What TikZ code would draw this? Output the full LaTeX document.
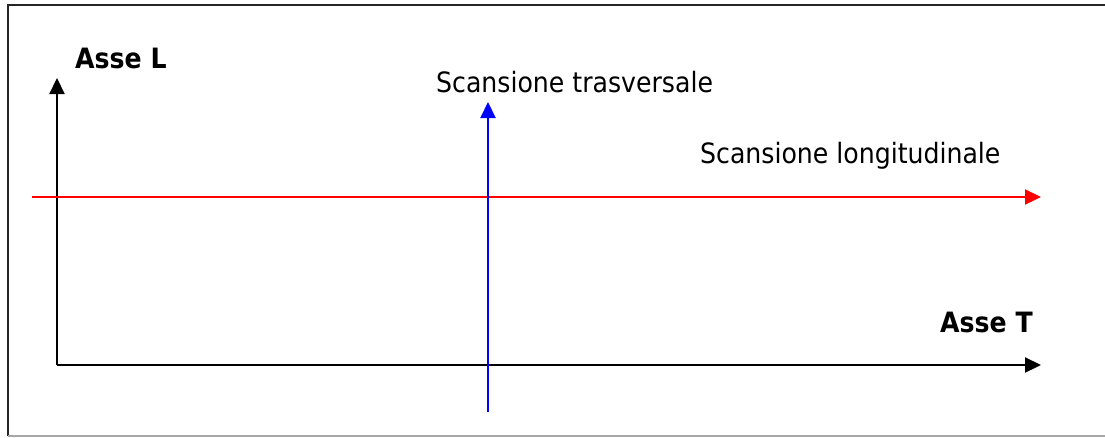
\documentclass[tikz,border=0pt]{standalone}
\usepackage{fontspec}
\setmainfont{DejaVu Sans Condensed}
\usetikzlibrary{arrows.meta}
\begin{document}
\begin{tikzpicture}[x=1pt,y=-1pt,
  axis/.style={line width=2.2pt,-{Triangle[length=16pt,width=15pt]}},
  lab/.style={anchor=base west,inner sep=0pt,font=\fontsize{28}{32}\selectfont},
  blab/.style={lab,font=\fontsize{28}{32}\selectfont\bfseries}]
\useasboundingbox (0,0) rectangle (1105,437);
\draw[line width=2pt,black!85] (1106,5) -- (8,5) -- (8,436);
\draw[line width=1.5pt,black!35] (8,436) -- (1106,436);
% coordinates
\coordinate (o) at (57,365);
\coordinate (ltip) at (57,78);
\coordinate (ttip) at (1041,365);
\coordinate (r0) at (32,197);
\coordinate (r1) at (1041,197);
\coordinate (b0) at (488,412);
\coordinate (b1) at (488,102);
\draw[axis] (o) -- (ltip);
\draw[axis] (o) -- (ttip);
\draw[axis,red] (r0) -- (r1);
\draw[axis,blue] (b0) -- (b1);
\node[blab] (al) at (75,68) {Asse L};
\node[blab] (at) at (940,332) {Asse T};
\node[lab] (st) at (436,92) {Scansione trasversale};
\node[lab] (sl) at (700,163) {Scansione longitudinale};
\end{tikzpicture}
\end{document}
